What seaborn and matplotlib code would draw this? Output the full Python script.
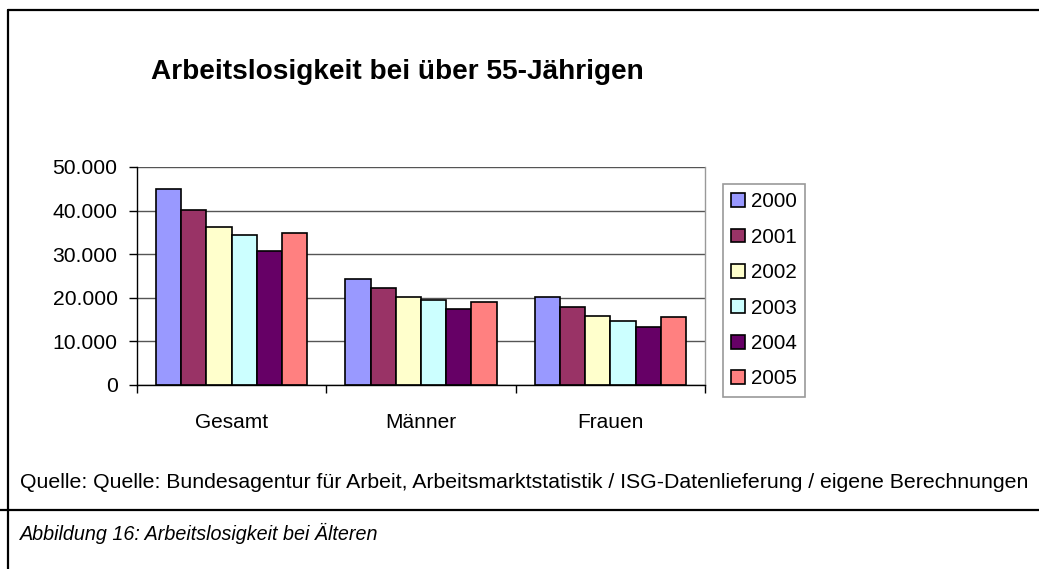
import matplotlib
matplotlib.use("Agg")
import matplotlib.pyplot as plt
from matplotlib.lines import Line2D
from matplotlib.ticker import FuncFormatter
import seaborn as sns
import pandas as pd

# data
categories = ["Gesamt", "Männer", "Frauen"]
years = ["2000", "2001", "2002", "2003", "2004", "2005"]
gesamt = [44900, 40200, 36300, 34300, 30800, 34900]
maenner = [24400, 22200, 20100, 19400, 17500, 19100]
frauen = [20100, 17800, 15900, 14700, 13200, 15500]
colors = ["#9999FF", "#993366", "#FFFFCC", "#CCFFFF", "#660066", "#FF8080"]

title = "Arbeitslosigkeit bei über 55-Jährigen"
source = ("Quelle: Quelle: Bundesagentur für Arbeit, Arbeitsmarktstatistik / "
          "ISG-Datenlieferung / eigene Berechnungen")
caption = "Abbildung 16: Arbeitslosigkeit bei Älteren"

rows = []
for cat, vals in zip(categories, [gesamt, maenner, frauen]):
    for y, v in zip(years, vals):
        rows.append({"Gruppe": cat, "Jahr": y, "Anzahl": v})
df = pd.DataFrame(rows)

sns.set_style("white")
plt.rcParams["font.family"] = ["Liberation Sans", "DejaVu Sans"]
plt.rcParams["text.color"] = "black"
plt.rcParams["xtick.color"] = "black"
plt.rcParams["ytick.color"] = "black"

W, H = 1039, 569
fig = plt.figure(figsize=(W / 100, H / 100), dpi=100)
ax = fig.add_axes([137 / W, 1 - 385 / H, (705 - 137) / W, (385 - 167) / H])

sns.barplot(data=df, x="Gruppe", y="Anzahl", hue="Jahr", palette=colors,
            edgecolor="black", linewidth=1.2, width=0.8, gap=0,
            saturation=1, ax=ax, legend=True)

ax.set_ylim(0, 50000)
ax.set_xlim(-0.5, 2.5)
ax.set_yticks(range(0, 50001, 10000))
ax.yaxis.set_major_formatter(FuncFormatter(lambda v, p: f"{int(v):,}".replace(",", ".")))
ax.set_xlabel("")
ax.set_ylabel("")
ax.grid(axis="y", color="#555555", linewidth=1)
ax.set_axisbelow(True)

ax.spines["left"].set_color("black")
ax.spines["bottom"].set_color("black")
ax.spines["right"].set_color("#999999")
ax.spines["top"].set_visible(False)
for s in ax.spines.values():
    s.set_linewidth(1)

ax.tick_params(axis="y", left=True, length=6, width=1, color="black",
               labelsize=15.2, pad=8, labelcolor="black")
ax.tick_params(axis="x", bottom=False, labelsize=15, pad=17, labelcolor="black")
ax.set_xticks([0, 1, 2])
ax.set_xticklabels(categories)
# category boundary ticks
ax.set_xticks([-0.5, 0.5, 1.5, 2.5], minor=True)
ax.tick_params(axis="x", which="minor", bottom=True, length=6, width=1, color="black")

leg = ax.legend(loc="upper left", bbox_to_anchor=(723 / W, 1 - 184 / H),
                bbox_transform=fig.transFigure, fontsize=14.8, frameon=True,
                fancybox=False, edgecolor="#808080", handlelength=0.65,
                handleheight=0.65, handletextpad=0.3, labelspacing=0.8,
                borderpad=0.4, borderaxespad=0)
leg.get_frame().set_linewidth(1.2)

fig.text(397 / W, 1 - 72 / H, title, ha="center", va="center",
         fontsize=20.2, fontweight="bold")
fig.text(20 / W, 1 - 482 / H, source, ha="left", va="center", fontsize=15.3)
fig.text(20 / W, 1 - 533 / H, caption, ha="left", va="center", fontsize=14.2,
         style="italic")

# frame lines around the chart object and caption
fig.add_artist(Line2D([8 / W, 8 / W], [0, 1 - 10 / H], color="black", lw=1.6,
                      transform=fig.transFigure))
fig.add_artist(Line2D([8 / W, 1], [1 - 10 / H, 1 - 10 / H], color="black", lw=1.6,
                      transform=fig.transFigure))
fig.add_artist(Line2D([0, 1], [1 - 510 / H, 1 - 510 / H], color="black", lw=1.6,
                      transform=fig.transFigure))

fig.savefig("out.png", dpi=100, facecolor="white")
